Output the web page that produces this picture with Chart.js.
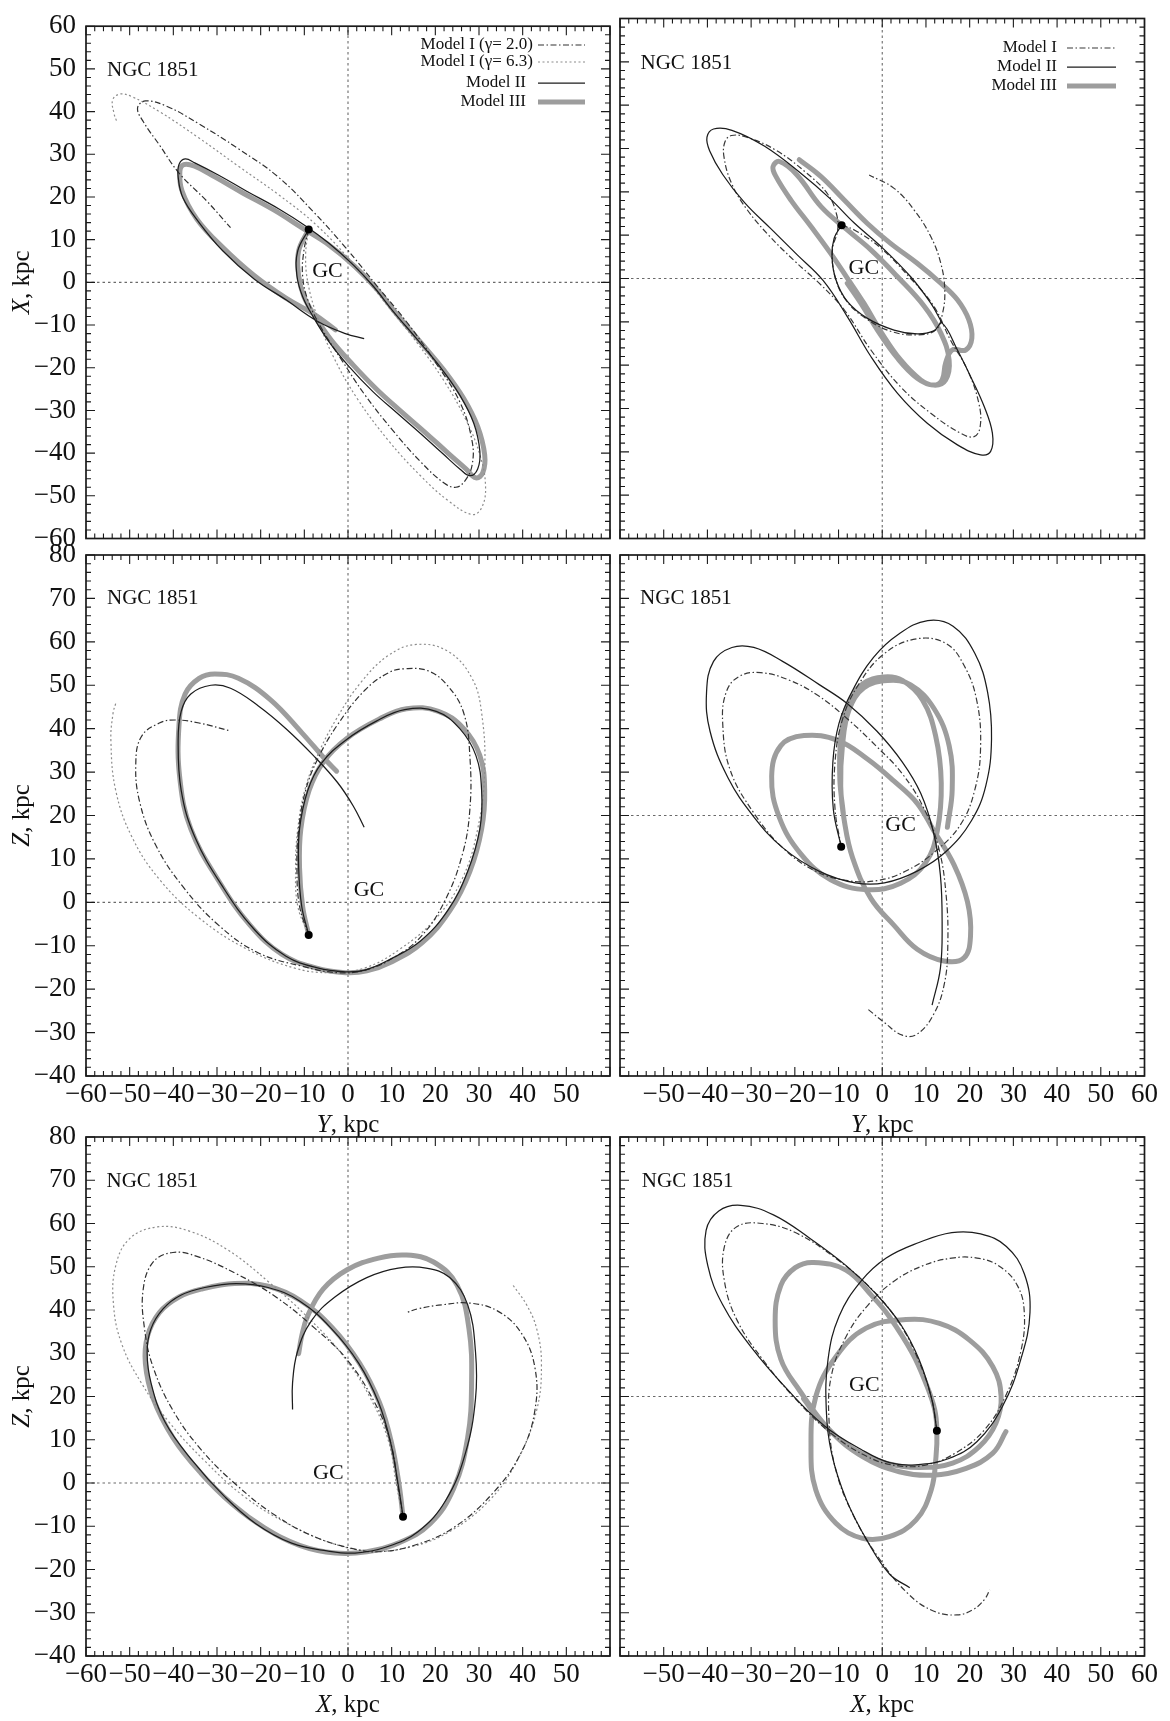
<!DOCTYPE html>
<html>
<head>
<meta charset="utf-8">
<title>NGC 1851 orbits</title>
<script src="https://cdn.jsdelivr.net/npm/chart.js@4.4.1/dist/chart.umd.min.js"></script>
<style>
  body { margin: 0; background: #fff; }
  #fig { position: relative; width: 1170px; height: 1721px; }
  #fig canvas { position: absolute; left: 0; top: 0; }
</style>
</head>
<body>
<div id="fig">
  <canvas id="yxA" width="1170" height="1721"></canvas>
  <canvas id="yxB" width="1170" height="1721"></canvas>
  <canvas id="yzA" width="1170" height="1721"></canvas>
  <canvas id="yzB" width="1170" height="1721"></canvas>
  <canvas id="xzA" width="1170" height="1721"></canvas>
  <canvas id="xzB" width="1170" height="1721"></canvas>
</div>
<script>
// Orbits of NGC 1851 in three projections, [horizontal, vertical] in kpc.
// Column A: Model I (gamma = 2.0 / 6.3), Model II, Model III.  Column B: Model I, II, III.

// ticks
const ticksXY = [-60, -50, -40, -30, -20, -10, 0, 10, 20, 30, 40, 50, 60];
const ticksZ = [-40, -30, -20, -10, 0, 10, 20, 30, 40, 50, 60, 70, 80];
const ticksLeftX = [-60, -50, -40, -30, -20, -10, 0, 10, 20, 30, 40, 50];
const ticksRightX = [-50, -40, -30, -20, -10, 0, 10, 20, 30, 40, 50, 60];
const rangeXY = [-60, 60];
const rangeZ = [-40, 80];

// Y-X plane
const nowYXA = [-9.0, 12.4];
const yxA_II = [[-9.0,12.4],[-11.5,7.4],[-11.7,1.6],[-10.4,-3.3],[-7.9,-8.2],[-4.3,-14.0],[0.3,-19.8],[5.7,-25.6],[11.1,-30.5],[16.6,-35.4],[22.0,-40.4],[25.6,-43.7],[27.9,-45.3],[29.7,-43.7],[30.2,-39.6],[28.8,-33.0],[25.6,-26.4],[21.1,-19.8],[15.7,-13.2],[10.2,-6.6],[5.7,-0.8],[1.2,4.1],[-4.3,9.1],[-9.7,13.2],[-16.0,17.3],[-23.3,21.4],[-29.6,25.1],[-35.1,28.0],[-37.3,28.9],[-38.7,27.6],[-38.9,24.7],[-37.8,19.8],[-34.1,14.0],[-28.7,7.4],[-21.5,0.8],[-14.2,-4.1],[-7.0,-9.1],[-0.6,-12.0],[3.7,-13.2]];
const yxA_III = [[-9.0,12.4],[-11.3,7.4],[-11.3,1.6],[-10.1,-3.3],[-7.4,-8.2],[-3.8,-13.6],[1.2,-19.4],[6.6,-25.1],[12.0,-30.1],[17.5,-35.0],[22.9,-40.0],[27.0,-43.7],[29.3,-45.8],[30.9,-44.5],[31.3,-40.4],[29.7,-33.8],[26.5,-27.2],[22.0,-20.6],[16.6,-14.0],[11.1,-7.4],[6.6,-1.6],[1.6,3.7],[-4.3,8.7],[-10.6,12.8],[-16.9,16.9],[-24.2,21.0],[-30.5,24.7],[-35.1,27.2],[-37.6,27.6],[-38.5,26.0],[-38.0,21.4],[-34.6,14.8],[-28.7,8.2],[-21.5,1.6],[-14.2,-3.7],[-7.9,-7.4],[-2.9,-11.1]];
const yxA_I2 = [[-9.0,12.4],[-10.1,7.4],[-10.4,1.6],[-9.2,-4.1],[-6.1,-10.7],[-1.5,-18.1],[3.9,-26.4],[10.2,-34.6],[16.6,-42.0],[22.0,-47.0],[24.7,-48.0],[26.7,-46.6],[28.4,-42.9],[28.4,-37.1],[25.6,-28.0],[20.2,-19.0],[13.9,-9.9],[6.6,-0.8],[-0.6,8.2],[-7.9,16.5],[-16.0,24.7],[-25.1,31.3],[-34.1,37.1],[-41.4,41.2],[-46.4,42.5],[-48.2,40.8],[-46.8,37.5],[-43.2,32.2],[-38.7,25.6],[-32.3,19.0],[-26.9,12.8]];
const yxA_I6 = [[-9.0,12.4],[-9.7,6.6],[-9.2,0.0],[-7.0,-8.2],[-3.4,-17.3],[2.1,-27.2],[9.3,-37.1],[16.6,-45.3],[22.9,-51.1],[28.4,-54.4],[30.6,-52.8],[31.5,-47.8],[30.2,-40.4],[27.0,-32.2],[22.0,-23.1],[15.7,-14.0],[9.3,-5.8],[2.1,3.3],[-7.0,13.2],[-16.0,20.6],[-25.1,27.2],[-34.1,33.8],[-43.2,40.0],[-49.5,43.5],[-52.3,44.1],[-53.9,42.7],[-53.6,39.6],[-53.0,37.8]];

const nowYXB = [-9.3, 12.3];
const yxB_II = [[-9.3,12.3],[-11.0,9.3],[-11.5,5.1],[-10.6,-0.3],[-8.0,-5.3],[-3.4,-9.2],[2.7,-11.9],[8.0,-12.8],[11.8,-12.1],[13.7,-10.3],[17.2,-16.5],[20.2,-22.6],[23.3,-29.5],[25.2,-35.7],[24.8,-39.9],[22.5,-40.7],[17.2,-38.4],[10.3,-33.4],[3.5,-26.5],[-2.6,-18.0],[-8.0,-8.8],[-13.5,-0.5],[-19.5,5.5],[-25.5,11.5],[-31.5,17.5],[-36.5,24.0],[-39.5,29.5],[-40.1,32.6],[-38.6,34.5],[-34.4,34.2],[-26.9,30.5],[-18.3,24.0],[-12.0,18.5],[-6.4,12.8],[-0.3,7.4],[6.5,0.4],[11.1,-5.7],[13.7,-10.3]];
const yxB_I = [[-9.3,12.3],[-6.4,11.2],[-0.3,7.0],[6.5,0.0],[11.8,-6.4],[15.6,-14.2],[19.5,-21.1],[22.1,-28.8],[22.4,-34.2],[21.0,-36.5],[17.9,-35.7],[11.1,-31.1],[4.2,-25.0],[-2.6,-16.5],[-8.5,-7.5],[-14.0,-1.5],[-20.0,4.0],[-26.0,10.0],[-31.0,16.0],[-34.5,22.0],[-36.2,28.0],[-36.0,31.5],[-34.5,33.0],[-31.0,32.6],[-24.5,29.7],[-17.5,24.5],[-12.5,19.5],[-10.5,15.0],[-10.2,11.2],[-11.4,6.6],[-10.8,0.4],[-8.3,-5.0],[-3.8,-9.2],[2.3,-12.3],[8.0,-13.0],[12.2,-11.9],[13.8,-8.0],[14.3,-2.6],[13.4,3.5],[11.1,9.7],[7.3,15.8],[2.7,20.8],[-3.0,23.9]];
const yxB_III = [[-19.0,27.4],[-14.0,23.5],[-8.7,18.1],[-3.4,12.7],[1.9,8.1],[8.0,3.5],[13.4,-1.1],[17.2,-4.9],[19.8,-9.5],[20.5,-13.8],[19.1,-16.5],[16.0,-16.5],[14.5,-19.5],[13.7,-23.4],[11.8,-24.6],[8.8,-23.4],[4.2,-18.8],[-0.3,-12.3],[-4.2,-5.7],[-8.0,0.1],[-11.8,5.8],[-16.3,12.0],[-20.9,18.1],[-24.3,23.5],[-25.0,25.8],[-23.5,27.0],[-19.5,23.9],[-14.0,16.6],[-8.0,11.2],[-2.6,6.6],[3.5,0.4],[9.6,-6.4],[13.4,-12.6],[15.3,-18.8],[14.5,-23.4],[11.8,-24.6],[8.0,-23.0],[3.5,-18.4],[-1.1,-11.9],[-4.9,-5.7],[-8.0,-1.1]];

// Y-Z plane
const nowYZA = [-9.0, -7.5];
const yzA_II = [[-9.0,-7.5],[-10.6,-0.9],[-11.3,8.0],[-11.1,16.9],[-9.2,25.8],[-6.1,32.0],[-0.6,37.3],[6.6,41.8],[13.0,44.4],[20.2,44.0],[25.6,40.0],[29.3,33.8],[30.6,25.8],[30.2,16.9],[27.4,7.1],[22.9,-1.8],[16.6,-8.9],[9.3,-13.3],[3.9,-15.6],[-0.6,-16.0],[-7.0,-15.1],[-14.2,-12.4],[-21.5,-6.2],[-28.7,3.6],[-35.1,15.1],[-38.2,25.8],[-38.9,37.3],[-38.2,44.0],[-36.0,48.0],[-31.4,50.0],[-26.9,49.3],[-20.6,45.3],[-14.2,40.0],[-7.9,33.8],[-2.4,27.6],[1.2,22.2],[3.7,17.3]];
const yzA_III = [[-9.0,-7.5],[-10.4,-0.9],[-11.1,8.0],[-10.8,16.9],[-8.9,25.8],[-5.6,32.4],[-0.2,37.8],[7.1,42.2],[13.4,44.6],[20.7,44.0],[26.5,40.0],[30.2,33.8],[31.3,25.8],[30.6,16.9],[27.9,7.1],[23.4,-1.8],[17.0,-9.3],[9.8,-13.8],[4.3,-15.8],[-0.6,-16.2],[-7.4,-15.1],[-15.1,-12.0],[-22.4,-5.3],[-29.6,4.9],[-36.0,16.9],[-38.5,28.4],[-38.7,40.9],[-37.3,48.0],[-34.1,51.6],[-30.5,52.6],[-25.1,51.6],[-17.8,46.7],[-10.6,39.1],[-5.2,32.9],[-2.6,30.2]];
const yzA_I2 = [[-9.0,-7.5],[-11.1,-0.9],[-11.7,8.0],[-11.3,16.9],[-9.7,25.8],[-7.0,32.9],[-2.4,40.9],[3.9,48.9],[9.3,52.9],[13.0,53.8],[18.4,53.3],[22.9,49.8],[26.5,43.6],[27.9,33.8],[27.9,21.3],[26.1,10.7],[22.0,0.0],[16.6,-8.0],[10.2,-12.9],[3.9,-15.6],[-2.4,-16.2],[-10.6,-14.7],[-20.6,-11.6],[-29.6,-5.3],[-37.8,3.6],[-44.1,13.3],[-47.7,23.1],[-48.6,32.0],[-47.3,38.2],[-43.2,41.3],[-39.6,42.0],[-34.1,41.3],[-27.4,39.6]];
const yzA_I6 = [[-9.0,-7.5],[-11.5,-0.9],[-12.0,8.0],[-11.5,16.9],[-9.9,25.8],[-7.0,33.8],[-2.4,42.7],[3.0,50.7],[9.3,56.9],[15.7,59.4],[22.9,57.8],[28.4,51.6],[30.6,43.6],[31.3,30.2],[29.7,16.9],[26.1,5.3],[20.2,-3.6],[12.0,-10.7],[3.9,-15.1],[-4.3,-16.2],[-12.4,-15.1],[-23.3,-10.7],[-34.1,-3.6],[-43.2,5.3],[-49.5,15.1],[-53.2,25.8],[-54.3,37.3],[-53.8,43.6],[-53.2,45.8]];

const nowYZB = [-9.4, -7.2];
const yzB_II = [[-9.4,-7.2],[-11.2,1.5],[-11.3,12.3],[-9.9,21.2],[-7.0,28.4],[-2.0,36.4],[3.8,41.8],[10.4,44.9],[16.2,43.6],[21.2,37.3],[24.1,28.4],[25.0,17.6],[23.7,6.9],[20.4,-1.2],[14.6,-8.3],[8.0,-12.8],[0.5,-15.5],[-6.2,-15.5],[-14.5,-12.8],[-22.8,-7.4],[-29.4,-0.3],[-35.3,8.7],[-39.4,19.4],[-40.2,28.4],[-38.6,35.5],[-34.4,38.7],[-29.4,38.7],[-22.8,35.5],[-14.5,30.2],[-7.9,25.7],[-1.2,19.4],[4.6,12.3],[8.8,5.1],[11.7,-3.8],[13.3,-13.7],[13.7,-25.3],[13.3,-35.2],[11.4,-43.7]];
const yzB_I = [[-9.4,-7.2],[-10.8,1.5],[-10.8,12.3],[-9.1,22.1],[-5.4,30.2],[0.5,37.3],[7.9,40.7],[14.6,39.6],[18.7,34.6],[21.6,26.6],[22.5,15.8],[21.2,6.0],[17.9,-2.1],[12.1,-8.3],[5.4,-12.8],[-1.2,-15.0],[-7.9,-15.0],[-15.3,-12.8],[-22.8,-7.4],[-29.4,0.6],[-34.8,10.5],[-36.5,21.2],[-35.7,28.4],[-32.8,32.0],[-27.8,32.9],[-21.1,31.1],[-14.5,27.5],[-7.8,22.1],[-1.2,15.8],[4.6,9.6],[9.6,1.5],[12.9,-7.4],[14.6,-18.2],[15.0,-29.8],[14.2,-38.8],[11.7,-45.9],[7.9,-50.4],[4.6,-50.6],[0.5,-47.7],[-3.3,-44.6]];
const yzB_III = [[14.9,-2.7],[16.0,5.9],[15.3,16.1],[11.8,24.7],[6.5,30.1],[1.2,31.1],[-4.2,29.4],[-7.6,24.3],[-9.1,16.1],[-9.5,6.7],[-8.7,-1.1],[-6.8,-9.7],[-2.6,-19.1],[2.7,-25.3],[8.0,-30.8],[14.1,-33.5],[18.7,-32.8],[20.2,-27.7],[19.5,-19.9],[16.4,-11.3],[11.8,-3.5],[8.0,2.8],[2.7,7.9],[-3.4,13.0],[-10.2,17.3],[-17.9,18.4],[-23.2,16.1],[-25.3,9.0],[-23.6,-0.3],[-18.6,-8.9],[-11.8,-14.8],[-3.4,-17.1],[4.2,-15.6],[9.9,-10.9],[12.6,-3.5],[13.5,7.5],[12.2,18.4],[9.2,26.6],[4.6,31.1],[0.4,31.9],[-4.5,30.3],[-7.8,25.8],[-9.5,17.6],[-9.7,8.3],[-8.9,0.5]];

// X-Z plane
const nowXZA = [12.6, -7.8];
const xzA_II = [[12.6,-7.8],[11.5,-0.4],[9.7,9.6],[7.0,18.6],[2.5,27.6],[-3.8,35.7],[-11.1,42.1],[-18.3,45.2],[-25.6,46.1],[-32.8,45.2],[-38.3,43.4],[-42.3,40.3],[-45.1,35.7],[-46.0,30.3],[-45.1,23.1],[-41.9,14.1],[-35.6,5.1],[-28.3,-3.1],[-21.1,-9.4],[-12.9,-13.9],[-4.8,-15.7],[1.6,-16.2],[8.8,-14.8],[16.1,-11.2],[22.4,-4.0],[26.9,6.9],[29.2,19.5],[29.2,30.3],[27.4,41.2],[23.3,47.5],[17.9,49.7],[11.5,49.7],[4.3,47.5],[-3.0,43.0],[-8.4,37.5],[-11.6,30.3],[-12.7,23.1],[-12.7,17.0]];
const xzA_III = [[12.6,-7.8],[11.7,-0.4],[9.9,9.6],[7.2,18.6],[2.7,27.6],[-3.6,35.9],[-10.9,42.2],[-18.3,45.5],[-26.0,46.1],[-33.3,44.9],[-38.7,43.0],[-43.2,39.4],[-45.9,34.0],[-46.4,27.6],[-44.6,19.5],[-40.1,10.5],[-33.7,2.3],[-26.5,-4.9],[-19.2,-10.3],[-11.1,-14.4],[-2.9,-16.2],[4.3,-15.9],[11.5,-13.9],[18.8,-9.4],[24.2,-1.3],[27.4,10.5],[28.3,23.1],[27.7,35.7],[25.0,45.7],[19.6,51.1],[13.4,52.7],[7.0,52.0],[-0.2,49.3],[-5.7,44.8],[-9.3,38.5],[-10.6,34.0],[-11.3,29.9]];
const xzA_I2 = [[12.6,-7.8],[11.4,-0.4],[9.7,9.6],[6.1,18.6],[-0.2,28.5],[-7.5,35.7],[-16.5,43.0],[-25.6,48.4],[-34.6,52.4],[-40.1,53.3],[-44.6,51.1],[-46.9,44.8],[-46.6,35.7],[-44.6,26.7],[-40.1,16.8],[-33.7,7.8],[-25.6,-0.4],[-16.5,-7.6],[-7.5,-12.5],[1.6,-15.3],[7.0,-15.9],[15.2,-14.4],[24.2,-10.3],[33.3,-2.2],[39.6,6.9],[42.8,16.8],[42.8,26.7],[39.6,34.8],[34.2,39.8],[27.9,41.6],[21.5,41.2],[16.1,40.3],[13.4,39.4]];
const xzA_I6 = [[12.6,-7.8],[11.1,-0.4],[9.3,9.6],[5.2,19.5],[-1.1,29.4],[-9.3,38.4],[-18.3,46.6],[-27.4,53.8],[-36.5,58.3],[-43.7,59.2],[-50.0,56.5],[-53.2,50.2],[-53.7,41.2],[-51.8,32.1],[-47.3,23.1],[-41.0,14.1],[-32.8,5.1],[-23.8,-3.1],[-13.8,-9.4],[-3.8,-13.9],[5.2,-15.7],[14.3,-14.8],[23.3,-11.2],[32.4,-4.0],[38.7,5.1],[43.2,16.8],[44.3,27.6],[43.2,35.7],[40.9,41.2],[37.8,45.7]];

const nowXZB = [12.5, -7.9];
const xzB_II = [[12.5,-7.9],[11.3,-0.5],[8.4,8.6],[4.2,16.7],[-1.6,23.9],[-8.2,30.2],[-16.6,36.6],[-24.9,42.0],[-32.4,44.2],[-37.4,42.9],[-40.3,38.4],[-39.9,30.2],[-36.5,21.2],[-29.9,11.3],[-21.5,1.4],[-13.2,-6.8],[-4.9,-12.2],[1.7,-15.3],[7.6,-15.8],[15.1,-14.4],[21.7,-10.4],[27.5,-2.3],[31.7,8.6],[33.8,19.4],[32.5,28.4],[28.4,34.7],[22.5,37.6],[15.9,37.9],[8.4,35.6],[0.9,32.0],[-4.9,26.6],[-9.9,18.5],[-12.4,8.6],[-12.8,-3.2],[-11.6,-13.1],[-8.2,-23.9],[-3.2,-33.8],[1.7,-41.1],[6.3,-44.2]];
const xzB_I = [[12.5,-7.9],[11.3,-0.5],[8.2,8.6],[3.8,17.1],[-2.4,24.8],[-10.7,32.0],[-19.9,37.9],[-27.4,40.0],[-33.2,39.3],[-36.1,34.7],[-36.1,26.6],[-33.2,17.6],[-27.4,8.6],[-19.9,-0.5],[-11.6,-8.6],[-3.2,-14.0],[3.4,-16.0],[10.1,-15.8],[16.7,-13.1],[23.4,-7.7],[28.4,0.5],[31.7,10.4],[32.5,19.4],[30.9,25.7],[26.7,30.2],[21.7,32.0],[15.9,32.0],[9.2,30.2],[2.6,26.6],[-3.2,21.2],[-8.2,14.0],[-11.6,5.0],[-12.2,-5.0],[-10.7,-16.7],[-6.6,-27.5],[-0.7,-37.5],[5.9,-45.6],[11.7,-49.6],[17.1,-50.5],[20.9,-49.2],[23.4,-46.9],[24.6,-44.7]];
const xzB_III = [[28.3,-8.1],[25.3,-13.1],[19.2,-16.6],[11.5,-18.2],[3.9,-17.4],[-4.5,-13.9],[-12.1,-7.7],[-19.0,1.5],[-23.2,8.6],[-24.5,17.6],[-23.2,25.7],[-19.9,29.8],[-15.7,31.0],[-8.3,29.2],[-2.2,23.1],[1.6,18.5],[6.9,10.0],[10.0,3.0],[12.0,-3.0],[12.5,-7.9],[12.3,-13.9],[11.2,-21.6],[7.7,-28.6],[1.6,-32.4],[-4.5,-32.8],[-10.6,-29.3],[-15.2,-21.6],[-16.3,-11.6],[-15.2,0.0],[-10.6,9.2],[-3.7,15.8],[5.4,17.8],[13.1,16.9],[19.9,13.1],[25.3,6.9],[27.2,0.0],[26.0,-6.2],[22.2,-11.6],[16.1,-15.4],[8.5,-16.4],[0.8,-15.4],[-6.8,-12.0],[-13.7,-6.2],[-18.0,-0.5]];

// label anchors in data units
const gcAt = { yxA: [-4.7, 2.5], yxB: [-4.2, 2.4], yzA: [4.8, 2.9], yzB: [4.2, -2.3], xzA: [-4.5, 2.3], xzB: [-4.1, 2.7] };
const tagAt = { yxA: [-55.2, 49.6], yxB: [-55.3, 49.6], yzA: [-55.2, 70.0], yzB: [-55.4, 50.0], xzA: [-55.3, 69.6], xzB: [-55.0, 49.8] };

// ---------------------------------------------------------------
const W = 1170, H = 1721;
const SERIF = "'Liberation Serif', 'Times New Roman', serif";
Chart.defaults.font.family = SERIF;
Chart.defaults.color = '#111';

const LINE = {
  I2:  { borderColor: '#303030', borderWidth: 1.2, borderDash: [6, 2.5, 1.5, 2.5] },
  I6:  { borderColor: '#8c8c8c', borderWidth: 1.2, borderDash: [2, 2.5] },
  I:   { borderColor: '#383838', borderWidth: 1.2, borderDash: [6, 2.5, 1.5, 2.5] },
  II:  { borderColor: '#1c1c1c', borderWidth: 1.25, borderDash: [] },
  III: { borderColor: '#9d9d9d', borderWidth: 5, borderDash: [], borderCapStyle: 'round' }
};

const fmt = v => (v < 0 ? '\u2212' + (-v) : String(v));

function orbit(label, arr, key) {
  return Object.assign({
    label, data: arr.map(([x, y]) => ({ x, y })),
    showLine: true, pointRadius: 0, tension: 0.4, fill: false
  }, LINE[key]);
}

function guide(points) {
  return {
    label: '', guide: true, data: points, showLine: true, pointRadius: 0, tension: 0,
    borderColor: '#6a6a6a', borderWidth: 1.1, borderDash: [2.5, 3]
  };
}

function drawTitle(ctx, letter, cx, cy, vertical) {
  ctx.save();
  ctx.translate(cx, cy);
  if (vertical) ctx.rotate(-Math.PI / 2);
  const it = `italic 25px ${SERIF}`, rm = `25px ${SERIF}`;
  ctx.font = it; const w1 = ctx.measureText(letter).width;
  ctx.font = rm; const w2 = ctx.measureText(', kpc').width;
  const x0 = -(w1 + w2) / 2;
  ctx.textAlign = 'left'; ctx.textBaseline = 'middle'; ctx.fillStyle = '#111';
  ctx.font = it; ctx.fillText(letter, x0, 0);
  ctx.font = rm; ctx.fillText(', kpc', x0 + w1, 0);
  ctx.restore();
}

// frame with inward ticks, labels, legend and axis titles
function decor(p) {
  return {
    id: 'decor',
    afterDatasetsDraw(chart) {
      const { ctx, chartArea: a, scales: { x, y } } = chart;
      ctx.save();
      ctx.strokeStyle = '#1a1a1a';
      ctx.lineWidth = 1.1;
      ctx.beginPath();
      for (let v = Math.ceil(x.min); v <= x.max; v += 2) {
        const px = x.getPixelForValue(v), len = v % 10 === 0 ? 9 : 5;
        ctx.moveTo(px, a.bottom); ctx.lineTo(px, a.bottom - len);
        ctx.moveTo(px, a.top); ctx.lineTo(px, a.top + len);
      }
      for (let v = Math.ceil(y.min); v <= y.max; v += 2) {
        const py = y.getPixelForValue(v), len = v % 10 === 0 ? 9 : 5;
        ctx.moveTo(a.left, py); ctx.lineTo(a.left + len, py);
        ctx.moveTo(a.right, py); ctx.lineTo(a.right - len, py);
      }
      ctx.stroke();
      ctx.lineWidth = 1.7;
      ctx.strokeRect(a.left, a.top, a.right - a.left, a.bottom - a.top);

      ctx.fillStyle = '#111';
      ctx.textBaseline = 'middle';
      ctx.font = `21px ${SERIF}`;
      ctx.textAlign = 'left';
      ctx.fillText('NGC 1851', x.getPixelForValue(p.tag[0]), y.getPixelForValue(p.tag[1]));
      ctx.font = `22px ${SERIF}`;
      ctx.textAlign = 'center';
      ctx.fillText('GC', x.getPixelForValue(p.gc[0]), y.getPixelForValue(p.gc[1]));

      if (p.legend) {
        const L = p.legend;
        ctx.font = `17px ${SERIF}`;
        ctx.textAlign = 'right';
        L.rows.forEach(r => {
          const ds = chart.data.datasets.find(d => d.label === r.label);
          ctx.fillStyle = '#111';
          ctx.fillText(r.label, r.right, r.y);
          ctx.save();
          ctx.strokeStyle = ds.borderColor;
          ctx.lineWidth = ds.borderWidth;
          ctx.setLineDash(ds.borderDash || []);
          ctx.lineCap = 'butt';
          ctx.beginPath();
          ctx.moveTo(L.from, r.y); ctx.lineTo(L.to, r.y);
          ctx.stroke();
          ctx.restore();
        });
      }
      ctx.restore();

      if (p.yTitle) drawTitle(ctx, p.yTitle, 22, (a.top + a.bottom) / 2, true);
      if (p.xTitle) drawTitle(ctx, p.xTitle, x.getPixelForValue(0), a.bottom + 49, false);
    }
  };
}

function buildPanel(p) {
  const [xMin, xMax] = p.xRange, [yMin, yMax] = p.yRange;
  const datasets = [
    { label: 'now', data: [{ x: p.now[0], y: p.now[1] }], showLine: false,
      pointRadius: 4, pointBackgroundColor: '#000', pointBorderWidth: 0 },
    ...p.series.map(([label, arr, key]) => orbit(label, arr, key)),
    guide([{ x: 0, y: yMin }, { x: 0, y: yMax }]),
    guide([{ x: xMin, y: 0 }, { x: xMax, y: 0 }])
  ];
  const f = p.frame;
  // the axis boxes take the whole margin so their tick labels are not clipped
  new Chart(document.getElementById(p.id), {
    type: 'scatter',
    data: { datasets },
    options: {
      responsive: false, animation: false, devicePixelRatio: 1, events: [],
      layout: { padding: { left: 0, top: f.t, right: W - f.r, bottom: 0 } },
      plugins: { legend: { display: false }, tooltip: { enabled: false } },
      scales: {
        x: {
          type: 'linear', position: 'bottom', min: xMin, max: xMax,
          grid: { display: false, drawTicks: false }, border: { display: false },
          afterBuildTicks: s => { s.ticks = (p.xTicks || []).map(v => ({ value: v })); },
          afterFit: s => { s.height = H - f.b; },
          ticks: { display: !!p.xTicks, autoSkip: false, maxRotation: 0, minRotation: 0, padding: 3,
                   font: { size: 27 }, color: '#111', callback: fmt }
        },
        y: {
          type: 'linear', position: 'left', min: yMin, max: yMax,
          grid: { display: false, drawTicks: false }, border: { display: false },
          afterBuildTicks: s => { s.ticks = (p.yTicks || []).map(v => ({ value: v })); },
          afterFit: s => { s.width = f.l; },
          ticks: { display: !!p.yTicks, autoSkip: false, padding: 10,
                   font: { size: 27 }, color: '#111', callback: fmt }
        }
      }
    },
    plugins: [decor(p)]
  });
}

const legendA = {
  from: 538, to: 585,
  rows: [
    { label: 'Model I (\u03b3= 2.0)', y: 45, right: 533 },
    { label: 'Model I (\u03b3= 6.3)', y: 62, right: 533 },
    { label: 'Model II', y: 83, right: 526 },
    { label: 'Model III', y: 102, right: 526 }
  ]
};
const legendB = {
  from: 1067, to: 1116,
  rows: [
    { label: 'Model I', y: 48, right: 1057 },
    { label: 'Model II', y: 67, right: 1057 },
    { label: 'Model III', y: 86, right: 1057 }
  ]
};

const seriesA = (I2, I6, II, III) => [
  ['Model II', II, 'II'], ['Model I (\u03b3= 2.0)', I2, 'I2'], ['Model I (\u03b3= 6.3)', I6, 'I6'], ['Model III', III, 'III']
];
const seriesB = (I, II, III) => [
  ['Model II', II, 'II'], ['Model I', I, 'I'], ['Model III', III, 'III']
];

const panels = [
  { id: 'yxA', frame: { l: 86, t: 18.5, r: 610, b: 538.5 }, xRange: rangeXY, yRange: rangeXY,
    xTicks: null, yTicks: ticksXY, yTitle: 'X', xTitle: null, now: nowYXA,
    series: seriesA(yxA_I2, yxA_I6, yxA_II, yxA_III), gc: gcAt.yxA, tag: tagAt.yxA, legend: legendA },
  { id: 'yxB', frame: { l: 620, t: 18.5, r: 1144.5, b: 538.5 }, xRange: rangeXY, yRange: rangeXY,
    xTicks: null, yTicks: null, yTitle: null, xTitle: null, now: nowYXB,
    series: seriesB(yxB_I, yxB_II, yxB_III), gc: gcAt.yxB, tag: tagAt.yxB, legend: legendB },
  { id: 'yzA', frame: { l: 86, t: 555, r: 610, b: 1076 }, xRange: rangeXY, yRange: rangeZ,
    xTicks: ticksLeftX, yTicks: ticksZ, yTitle: 'Z', xTitle: 'Y', now: nowYZA,
    series: seriesA(yzA_I2, yzA_I6, yzA_II, yzA_III), gc: gcAt.yzA, tag: tagAt.yzA },
  { id: 'yzB', frame: { l: 620, t: 555, r: 1144.5, b: 1076 }, xRange: rangeXY, yRange: rangeXY,
    xTicks: ticksRightX, yTicks: null, yTitle: null, xTitle: 'Y', now: nowYZB,
    series: seriesB(yzB_I, yzB_II, yzB_III), gc: gcAt.yzB, tag: tagAt.yzB },
  { id: 'xzA', frame: { l: 86, t: 1137, r: 610, b: 1656 }, xRange: rangeXY, yRange: rangeZ,
    xTicks: ticksLeftX, yTicks: ticksZ, yTitle: 'Z', xTitle: 'X', now: nowXZA,
    series: seriesA(xzA_I2, xzA_I6, xzA_II, xzA_III), gc: gcAt.xzA, tag: tagAt.xzA },
  { id: 'xzB', frame: { l: 620, t: 1137, r: 1144.5, b: 1656 }, xRange: rangeXY, yRange: rangeXY,
    xTicks: ticksRightX, yTicks: null, yTitle: null, xTitle: 'X', now: nowXZB,
    series: seriesB(xzB_I, xzB_II, xzB_III), gc: gcAt.xzB, tag: tagAt.xzB }
];

panels.forEach(buildPanel);
</script>
</body>
</html>
